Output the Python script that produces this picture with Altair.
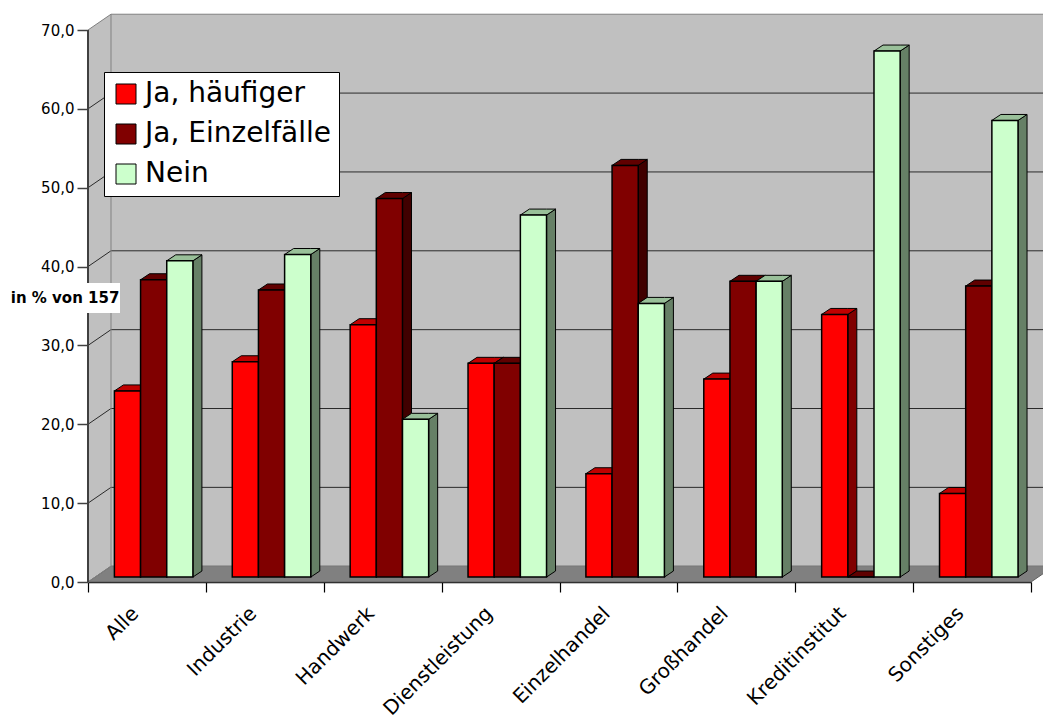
import json
import altair as alt
import pandas as pd

# ---------------- data ----------------
categories = ["Alle", "Industrie", "Handwerk", "Dienstleistung", "Einzelhandel",
              "Großhandel", "Kreditinstitut", "Sonstiges"]
series = ["Ja, häufiger", "Ja, Einzelfälle", "Nein"]
ja_haeufiger = [23.6, 27.3, 32.0, 27.1, 13.1, 25.1, 33.3, 10.6]
ja_einzelfaelle = [37.7, 36.4, 48.0, 27.1, 52.2, 37.5, 0.0, 36.9]
nein = [40.1, 40.9, 20.0, 45.9, 34.7, 37.5, 66.7, 57.9]
y_ticks = [0, 10, 20, 30, 40, 50, 60, 70]
y_title = "in % von 157"

front_colors = ["#FF0000", "#800000", "#CCFFCC"]
top_colors = ["#C00000", "#600000", "#99C099"]
side_colors = ["#800000", "#400000", "#668066"]

# ---------------- 3D projection constants (data units) ----------------
N = len(categories)
WALL_DX, WALL_DY = 0.195, 2.0       # depth of the walls
BAR_W = 0.222                        # bar width (fraction of category band)
GROUP_START = 0.224                  # first bar's front face inside band
BASE = 0.63                          # bars stand a bit behind the front edge
BAR_DX, BAR_DY = 0.0764, 0.76        # depth of each bar

values = [ja_haeufiger, ja_einzelfaelle, nein]

fronts, sides, tops = [], [], []
for i, cat in enumerate(categories):
    for s, name in enumerate(series):
        v = values[s][i]
        bid = "b%02d" % (i * 3 + s)
        x0 = i + GROUP_START + s * BAR_W
        x1 = x0 + BAR_W
        top = BASE + v
        fronts.append({"bar": bid, "cat": cat, "series": name, "value": v,
                       "x0": x0, "x1": x1, "y0": BASE, "y1": top})
        sides.append({"bar": bid, "x": x1, "y": top, "y2": BASE, "fc": side_colors[s]})
        sides.append({"bar": bid, "x": x1 + BAR_DX, "y": top + BAR_DY,
                      "y2": BASE + BAR_DY, "fc": side_colors[s]})
        tops.append({"bar": bid, "x": x0, "y": top, "y2": top, "fc": top_colors[s]})
        tops.append({"bar": bid, "x": x0 + BAR_DX, "y": top + BAR_DY, "y2": top, "fc": top_colors[s]})
        tops.append({"bar": bid, "x": x1, "y": top + BAR_DY, "y2": top, "fc": top_colors[s]})
        tops.append({"bar": bid, "x": x1 + BAR_DX, "y": top + BAR_DY, "y2": top + BAR_DY,
                     "fc": top_colors[s]})

df_front = pd.DataFrame(fronts)
df_side = pd.DataFrame(sides)
df_top = pd.DataFrame(tops)

ymax = y_ticks[-1]
df_floor = pd.DataFrame({"x": [0, WALL_DX, N, N + WALL_DX],
                         "y": [0, WALL_DY, WALL_DY, WALL_DY],
                         "y2": [0, 0, 0, WALL_DY]})
df_left = pd.DataFrame({"x": [0, WALL_DX], "y": [ymax, ymax + WALL_DY], "y2": [0, WALL_DY]})
df_back = pd.DataFrame({"x": [WALL_DX], "x2": [N + WALL_DX], "y": [WALL_DY], "y2": [ymax + WALL_DY]})

grid_rows = []
for k in y_ticks:
    col = "#808080" if k in (0, ymax) else "#2a2a2a"
    for j, (gx, gy) in enumerate([(0, k), (WALL_DX, k + WALL_DY), (N + WALL_DX, k + WALL_DY)]):
        grid_rows.append({"k": k, "j": j, "x": gx, "y": gy, "col": col})
df_grid = pd.DataFrame(grid_rows)
df_edge = pd.DataFrame({"x": [WALL_DX], "y": [WALL_DY], "y2": [ymax + WALL_DY]})
df_yaxis = pd.DataFrame({"x": [0], "y": [0], "y2": [ymax]})
df_tbox = pd.DataFrame({"x": [-0.679], "x2": [0.2715], "y": [34.11], "y2": [37.92]})
df_ttext = pd.DataFrame({"x": [-0.655], "y": [36.0], "t": [y_title]})

# ---------------- scales / axes ----------------
FONT = "DejaVu Sans"
cat_arr = json.dumps(categories, ensure_ascii=False)
xscale = alt.Scale(domain=[0, N], nice=False, zero=False)
yscale = alt.Scale(domain=[0, ymax], nice=False, zero=False)
xaxis = alt.Axis(values=list(range(N + 1)), title=None, grid=False,
                 labelExpr=f"datum.value < {N} ? {cat_arr}[datum.value] : ''",
                 labelAngle=-45, labelAlign="right", labelBaseline="middle",
                 labelOffset=47, labelPadding=18, labelOverlap=False, labelBound=False,
                 labelLimit=0,
                 labelFont=FONT, labelFontSize=20, labelColor="black",
                 tickSize=10, tickColor="black", tickWidth=1.2,
                 domainColor="black", domainWidth=1.5)
yaxis = alt.Axis(values=y_ticks, title=None, grid=False, domain=False,
                 labelExpr="replace(format(datum.value, '.1f'), '.', ',')",
                 labelFont=FONT, labelFontSize=15, labelColor="black", labelPadding=3,
                 tickSize=11, tickColor="#404040", tickWidth=1.5)


def X(f):
    return alt.X(f, type="quantitative", scale=xscale, axis=xaxis)


def Y(f):
    return alt.Y(f, type="quantitative", scale=yscale, axis=yaxis)


floor = alt.Chart(df_floor).mark_area(color="#808080", stroke="#606060", strokeWidth=1).encode(
    x=X("x"), y=Y("y"), y2="y2")
left_wall = alt.Chart(df_left).mark_area(color="#C0C0C0").encode(x=X("x"), y=Y("y"), y2="y2")
back_wall = alt.Chart(df_back).mark_rect(color="#C0C0C0").encode(x=X("x"), x2="x2", y=Y("y"), y2="y2")
grid = alt.Chart(df_grid).mark_line(strokeWidth=1).encode(
    x=X("x"), y=Y("y"), detail="k:N", order="j:Q", stroke=alt.Stroke("col:N", scale=None))
edge = alt.Chart(df_edge).mark_rule(color="#808080", strokeWidth=1).encode(x=X("x"), y=Y("y"), y2="y2")
yline = alt.Chart(df_yaxis).mark_rule(color="#404040", strokeWidth=2).encode(x=X("x"), y=Y("y"), y2="y2")

side = alt.Chart(df_side).mark_area(stroke="black", strokeWidth=1, strokeJoin="miter").encode(
    x=X("x"), y=Y("y"), y2="y2", detail="bar:N", fill=alt.Fill("fc:N", scale=None))
topf = alt.Chart(df_top).mark_area(stroke="black", strokeWidth=1, strokeJoin="miter").encode(
    x=X("x"), y=Y("y"), y2="y2", detail="bar:N", fill=alt.Fill("fc:N", scale=None))
front = alt.Chart(df_front).mark_rect(stroke="black", strokeWidth=1.5).encode(
    x=X("x0"), x2="x1", y=Y("y0"), y2="y1",
    color=alt.Color("series:N", sort=series,
                    scale=alt.Scale(domain=series, range=front_colors),
                    legend=alt.Legend(title=None, orient="none", legendX=16, legendY=42,
                                      direction="vertical",
                                      fillColor="white", strokeColor="black", padding=8,
                                      labelFont=FONT, labelFontSize=28, labelColor="black",
                                      labelOffset=5, rowPadding=12, labelLimit=0,
                                      symbolType="square", symbolSize=400,
                                      symbolStrokeColor="black", symbolStrokeWidth=1,
                                      symbolOpacity=1)))

tbox = alt.Chart(df_tbox).mark_rect(color="white").encode(x=X("x"), x2="x2", y=Y("y"), y2="y2")
ttext = alt.Chart(df_ttext).mark_text(align="left", baseline="middle", font=FONT,
                                      fontSize=15, fontWeight="bold", color="black").encode(
    x=X("x"), y=Y("y"), text="t:N")

chart = alt.layer(back_wall, left_wall, floor, grid, edge, yline, side, topf, front,
                  tbox, ttext).properties(
    width=943, height=552,
    autosize=alt.AutoSizeParams(type="none"),
    padding={"left": 88, "top": 30, "right": 12, "bottom": 138},
    background="white",
).configure_view(stroke=None)

chart.save("out.html", embed_options={"renderer": "svg", "actions": False})
